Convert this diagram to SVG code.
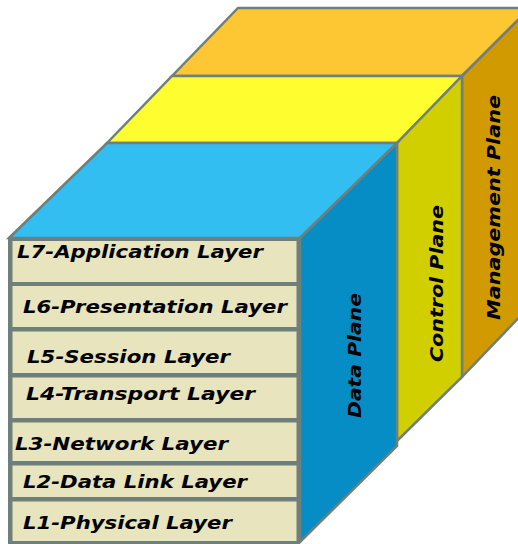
<svg xmlns="http://www.w3.org/2000/svg" width="518" height="544" viewBox="0 0 518 544">
<style>
.edge{stroke:#6f7f7a;stroke-width:2.5;stroke-linejoin:miter}
.layer{fill:#e8e4bd;stroke:#6f7f7a;stroke-width:3}
.lbl{font-family:"DejaVu Sans",Verdana,sans-serif;font-weight:bold;font-style:italic;font-size:18px;fill:#000}
</style>
<rect width="518" height="544" fill="#ffffff"/>
<g id="management-plane">
<polygon class="edge" points="172,76 238,8 530,8 462,76" fill="#fdc733"/>
<polygon class="edge" points="462,76 530,8 530,306 462,377" fill="#d09a00"/>
<text class="lbl" transform="translate(500,207.5) rotate(-90)" text-anchor="middle" textLength="225" lengthAdjust="spacingAndGlyphs">Management Plane</text>
</g>
<g id="control-plane">
<polygon class="edge" points="107,143 172,76 462,76 397,143" fill="#fdfd2f"/>
<polygon class="edge" points="397,143 462,76 462,377 397,441" fill="#d2cf00"/>
<text class="lbl" transform="translate(443,283.5) rotate(-90)" text-anchor="middle" textLength="157" lengthAdjust="spacingAndGlyphs">Control Plane</text>
</g>
<g id="data-plane">
<polygon class="edge" points="9,238 107,143 397,143 300,238" fill="#33bef2"/>
<polygon class="edge" points="300,238 397,143 397,446 300,542" fill="#078dc6"/>
<text class="lbl" transform="translate(361,355.5) rotate(-90)" text-anchor="middle" textLength="125" lengthAdjust="spacingAndGlyphs">Data Plane</text>
</g>
<rect x="8" y="238" width="292" height="306" fill="#6f7f7a"/>
<g id="L7"><rect class="layer" x="11" y="239.5" width="287" height="44"/><text class="lbl" x="17" y="258" textLength="246" lengthAdjust="spacingAndGlyphs">L7-Application Layer</text></g>
<g id="L6"><rect class="layer" x="11" y="284.5" width="287" height="44"/><text class="lbl" x="23" y="313" textLength="264" lengthAdjust="spacingAndGlyphs">L6-Presentation Layer</text></g>
<g id="L5"><rect class="layer" x="11" y="330" width="287" height="44.5"/><text class="lbl" x="27" y="363" textLength="203" lengthAdjust="spacingAndGlyphs">L5-Session Layer</text></g>
<g id="L4"><rect class="layer" x="11" y="376" width="287" height="43.5"/><text class="lbl" x="26" y="400" textLength="229" lengthAdjust="spacingAndGlyphs">L4-Transport Layer</text></g>
<g id="L3"><rect class="layer" x="11" y="421" width="287" height="41.5"/><text class="lbl" x="15" y="450" textLength="213" lengthAdjust="spacingAndGlyphs">L3-Network Layer</text></g>
<g id="L2"><rect class="layer" x="11" y="464" width="287" height="34.5"/><text class="lbl" x="23" y="488" textLength="224" lengthAdjust="spacingAndGlyphs">L2-Data Link Layer</text></g>
<g id="L1"><rect class="layer" x="11" y="500" width="287" height="42.5"/><text class="lbl" x="23" y="529" textLength="209" lengthAdjust="spacingAndGlyphs">L1-Physical Layer</text></g>
</svg>
